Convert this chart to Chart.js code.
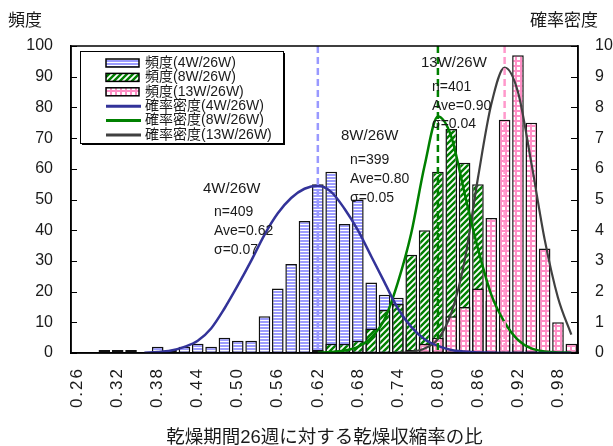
<!DOCTYPE html>
<html>
<head>
<meta charset="utf-8">
<script src="https://cdn.jsdelivr.net/npm/chart.js@4.4.1/dist/chart.umd.min.js"></script>
<style>
  html, body { margin: 0; padding: 0; background: #ffffff; }
  #wrap { width: 613px; height: 446px; position: relative; }
</style>
</head>
<body>
<div id="wrap"><canvas id="c" width="613" height="446"></canvas></div>
<script>
// Class centres of the shrinkage ratio (bin width 0.02)
const categories = ['0.26','0.28','0.30','0.32','0.34','0.36','0.38','0.40','0.42','0.44',
  '0.46','0.48','0.50','0.52','0.54','0.56','0.58','0.60','0.62','0.64',
  '0.66','0.68','0.70','0.72','0.74','0.76','0.78','0.80','0.82','0.84',
  '0.86','0.88','0.90','0.92','0.94','0.96','0.98','1.00'];
const tickLabels = ['0.26','0.32','0.38','0.44','0.50','0.56','0.62','0.68','0.74','0.80','0.86','0.92','0.98'];

// Frequencies (counts per class)
const freq4W  = [0,0,1,1,1,0,2,1,2,3,2,5,4,4,12,21,29,43,55,59,42,50,23,19,18,6,4,2,0,0,0,0,0,0,0,0,0,0];
const freq8W  = [0,0,0,0,0,0,0,0,0,0,0,0,0,0,0,0,0,0,1,3,3,4,8,14,16,32,40,59,73,62,55,17,8,3,1,0,0,0];
const freq13W = [0,0,0,0,0,0,0,0,0,0,0,0,0,0,0,0,0,0,0,0,0,0,0,0,0,1,3,5,12,15,21,44,76,97,75,34,10,3];

// Probability density curves (right axis)
const dens4W  = [null,null,null,null,null,0.01,0.03,0.08,0.2,0.4,0.8,1.45,2.2,3.0,3.85,4.55,5.05,5.35,5.45,5.25,
  4.7,4.0,3.15,2.3,1.45,0.85,0.45,0.23,0.10,0.05,0.02,0.01,0,0,0,0,0,0];
const dens8W  = [null,null,null,null,null,null,null,null,null,null,null,null,null,null,null,null,null,null,0.01,0.03,
  0.08,0.2,0.5,1.1,2.3,3.9,6.1,7.7,7.05,5.2,3.4,1.9,1.0,0.43,0.15,0.05,0.02,0.01];
const dens13W = [null,null,null,null,null,null,null,null,null,null,null,null,null,null,null,null,null,null,null,null,
  null,null,null,null,0.01,0.04,0.15,0.45,1.3,3.0,5.7,8.1,9.3,8.5,6.2,3.7,1.8,0.6];

// Summary statistics per drying period
const groups = ['4W/26W','8W/26W','13W/26W'];
const counts = [409, 399, 401];
const means  = [0.62, 0.80, 0.90];
const sigmas = [0.07, 0.05, 0.04];

const FONT = '"Liberation Sans", Arial, "Noto Sans CJK JP", sans-serif';
Chart.defaults.font.family = FONT;
Chart.defaults.color = '#1a1a1a';

const canvas = document.getElementById('c');
const ctx0 = canvas.getContext('2d');

function tile(w, h, paint) {
  const t = document.createElement('canvas');
  t.width = w; t.height = h;
  paint(t.getContext('2d'), w, h);
  return ctx0.createPattern(t, 'repeat');
}
// horizontal white stripes on light blue
const fillBlue = tile(4, 3, (g, w, h) => {
  g.fillStyle = '#9c9cff'; g.fillRect(0, 0, w, h);
  g.fillStyle = '#ffffff'; g.fillRect(0, 2, w, 1);
});
// diagonal white stripes on green
const fillGreen = tile(6, 6, (g, w, h) => {
  g.fillStyle = '#008000'; g.fillRect(0, 0, w, h);
  g.strokeStyle = '#ffffff'; g.lineWidth = 1.8;
  g.beginPath();
  g.moveTo(-1, 7); g.lineTo(7, -1);
  g.moveTo(-4, 4); g.lineTo(4, -4);
  g.moveTo(2, 10); g.lineTo(10, 2);
  g.stroke();
});
// pink grid on white
const fillPink = tile(5, 5, (g, w, h) => {
  g.fillStyle = '#ffffff'; g.fillRect(0, 0, w, h);
  g.fillStyle = '#ff8fc6';
  g.fillRect(0, 0, w, 2);
  g.fillRect(0, 0, 2, h);
});

const meanColors = ['#9999ff', '#008000', '#ff99cc'];

// Stat labels beside each distribution (pixel layout)
const statLayout = [
  { hx: 203, hy: 189, x: 214, y: [212, 231, 250] },
  { hx: 341, hy: 136, x: 350, y: [160, 179, 198] },
  { hx: 421, hy: 63,  x: 432, y: [87, 106, 124] }
];

const decorations = {
  id: 'decorations',
  beforeDraw(chart) {
    // slightly spaced glyphs for the rotated class labels
    const sx = chart.scales.x;
    if (sx && !sx.__spaced) {
      const base = sx.drawLabels;
      sx.drawLabels = function (area) {
        const c = this.ctx;
        c.save();
        c.letterSpacing = '2px';
        base.call(this, area);
        c.restore();
      };
      sx.__spaced = true;
    }
  },
  afterDatasetsDraw(chart) {
    const { ctx, chartArea: a, scales } = chart;
    const sx = scales.x;
    ctx.save();
    // dashed lines at the mean of each group
    means.forEach((m, i) => {
      const idx = categories.findIndex(c => Math.abs(Number(c) - m) < 1e-6);
      const px = sx.getPixelForValue(idx);
      ctx.strokeStyle = meanColors[i];
      ctx.lineWidth = 2.5;
      ctx.setLineDash([7, 4]);
      ctx.beginPath();
      ctx.moveTo(px, a.top);
      ctx.lineTo(px, a.bottom);
      ctx.stroke();
    });
    ctx.setLineDash([]);
    ctx.restore();
  },
  afterDraw(chart) {
    const { ctx, chartArea: a, scales } = chart;
    ctx.save();
    // plot frame
    ctx.strokeStyle = '#000';
    ctx.lineWidth = 1.5;
    ctx.strokeRect(a.left, a.top, a.right - a.left, a.bottom - a.top);
    // inward tick marks on both value axes
    ctx.lineWidth = 1;
    scales.y.ticks.forEach((t, i) => {
      const py = Math.round(scales.y.getPixelForTick(i)) + 0.5;
      ctx.beginPath(); ctx.moveTo(a.left, py); ctx.lineTo(a.left + 6, py); ctx.stroke();
    });
    scales.y1.ticks.forEach((t, i) => {
      const py = Math.round(scales.y1.getPixelForTick(i)) + 0.5;
      ctx.beginPath(); ctx.moveTo(a.right - 7, py); ctx.lineTo(a.right, py); ctx.stroke();
    });

    // axis headings above the value axes
    ctx.fillStyle = '#1a1a1a';
    ctx.font = '17px ' + FONT;
    ctx.textBaseline = 'middle';
    ctx.textAlign = 'left';
    ctx.fillText('頻度', 8, 21);
    ctx.textAlign = 'right';
    ctx.fillText('確率密度', 598, 21);

    // statistics text
    ctx.textAlign = 'left';
    groups.forEach((gname, i) => {
      const L = statLayout[i];
      ctx.font = '15px ' + FONT;
      ctx.fillText(gname, L.hx, L.hy);
      ctx.font = '14px ' + FONT;
      ctx.fillText('n=' + counts[i], L.x, L.y[0]);
      ctx.fillText('Ave=' + means[i].toFixed(2), L.x, L.y[1]);
      ctx.fillText('σ=' + sigmas[i].toFixed(2), L.x, L.y[2]);
    });

    // legend box
    const bx = 80, by = 51, bw = 203, bh = 92;
    ctx.fillStyle = '#000';
    ctx.fillRect(bx + 2, by + 2, bw, bh);
    ctx.fillStyle = '#fff';
    ctx.fillRect(bx, by, bw, bh);
    ctx.strokeStyle = '#000';
    ctx.lineWidth = 1;
    ctx.strokeRect(bx + 0.5, by + 0.5, bw, bh);
    chart.data.datasets.forEach((ds, i) => {
      const ry = 63 + i * 14.4;
      if (ds.type === 'line') {
        ctx.strokeStyle = ds.borderColor;
        ctx.lineWidth = 3;
        ctx.beginPath(); ctx.moveTo(106, ry); ctx.lineTo(141, ry); ctx.stroke();
      } else {
        ctx.fillStyle = ds.backgroundColor;
        ctx.fillRect(106, ry - 4, 33, 8);
        ctx.strokeStyle = '#000';
        ctx.lineWidth = 1.5;
        ctx.strokeRect(106, ry - 4, 33, 8);
      }
      ctx.fillStyle = '#1a1a1a';
      ctx.font = '14px ' + FONT;
      ctx.textAlign = 'left';
      ctx.textBaseline = 'middle';
      ctx.fillText(ds.label, 145, ry);
    });
    ctx.restore();
  }
};

const barCommon = {
  type: 'bar',
  yAxisID: 'y',
  grouped: false,
  borderColor: '#111111',
  borderWidth: 1.5,
  borderSkipped: false,
  barPercentage: 0.87,
  categoryPercentage: 1.0
};
const lineCommon = {
  type: 'line',
  yAxisID: 'y1',
  pointRadius: 0,
  borderWidth: 2.5,
  fill: false,
  cubicInterpolationMode: 'monotone',
  spanGaps: false,
  order: 0
};

new Chart(canvas, {
  data: {
    labels: categories,
    datasets: [
      Object.assign({}, barCommon, { label: '頻度(' + groups[0] + ')', data: freq4W,  backgroundColor: fillBlue,  order: 3 }),
      Object.assign({}, barCommon, { label: '頻度(' + groups[1] + ')', data: freq8W,  backgroundColor: fillGreen, order: 2 }),
      Object.assign({}, barCommon, { label: '頻度(' + groups[2] + ')', data: freq13W, backgroundColor: fillPink,  order: 1 }),
      Object.assign({}, lineCommon, { label: '確率密度(' + groups[0] + ')', data: dens4W,  borderColor: '#333399' }),
      Object.assign({}, lineCommon, { label: '確率密度(' + groups[1] + ')', data: dens8W,  borderColor: '#008000' }),
      Object.assign({}, lineCommon, { label: '確率密度(' + groups[2] + ')', data: dens13W, borderColor: '#404040', borderWidth: 2.2 })
    ]
  },
  options: {
    responsive: false,
    animation: false,
    devicePixelRatio: 1,
    layout: { padding: { top: 46, left: 0, right: 0, bottom: 0 } },
    plugins: { legend: { display: false }, tooltip: { enabled: false } },
    scales: {
      x: {
        type: 'category',
        offset: true,
        grid: { display: false, drawTicks: false },
        border: { display: true, color: '#000', width: 1.5 },
        ticks: {
          autoSkip: false,
          minRotation: 90,
          maxRotation: 90,
          padding: 14,
          font: { size: 17 },
          color: '#1a1a1a',
          callback: (v, i) => tickLabels.includes(categories[i]) ? categories[i] : ''
        },
        title: {
          display: true,
          text: '乾燥期間26週に対する乾燥収縮率の比',
          font: { size: 18.5 },
          color: '#1a1a1a',
          padding: { top: 0, bottom: -3 }
        },
        afterFit: s => { s.height = 93; }
      },
      y: {
        position: 'left',
        min: 0, max: 100,
        ticks: { stepSize: 10, padding: 18, font: { size: 16 }, color: '#1a1a1a' },
        grid: { display: false, drawTicks: false },
        border: { display: true, color: '#000', width: 1.5 },
        afterFit: s => { s.width = 71; }
      },
      y1: {
        position: 'right',
        min: 0, max: 10,
        ticks: { stepSize: 1, padding: 17, font: { size: 16 }, color: '#1a1a1a' },
        grid: { display: false, drawTicks: false },
        border: { display: true, color: '#000', width: 1.5 },
        afterFit: s => { s.width = 35; }
      }
    }
  },
  plugins: [decorations]
});
</script>
</body>
</html>
